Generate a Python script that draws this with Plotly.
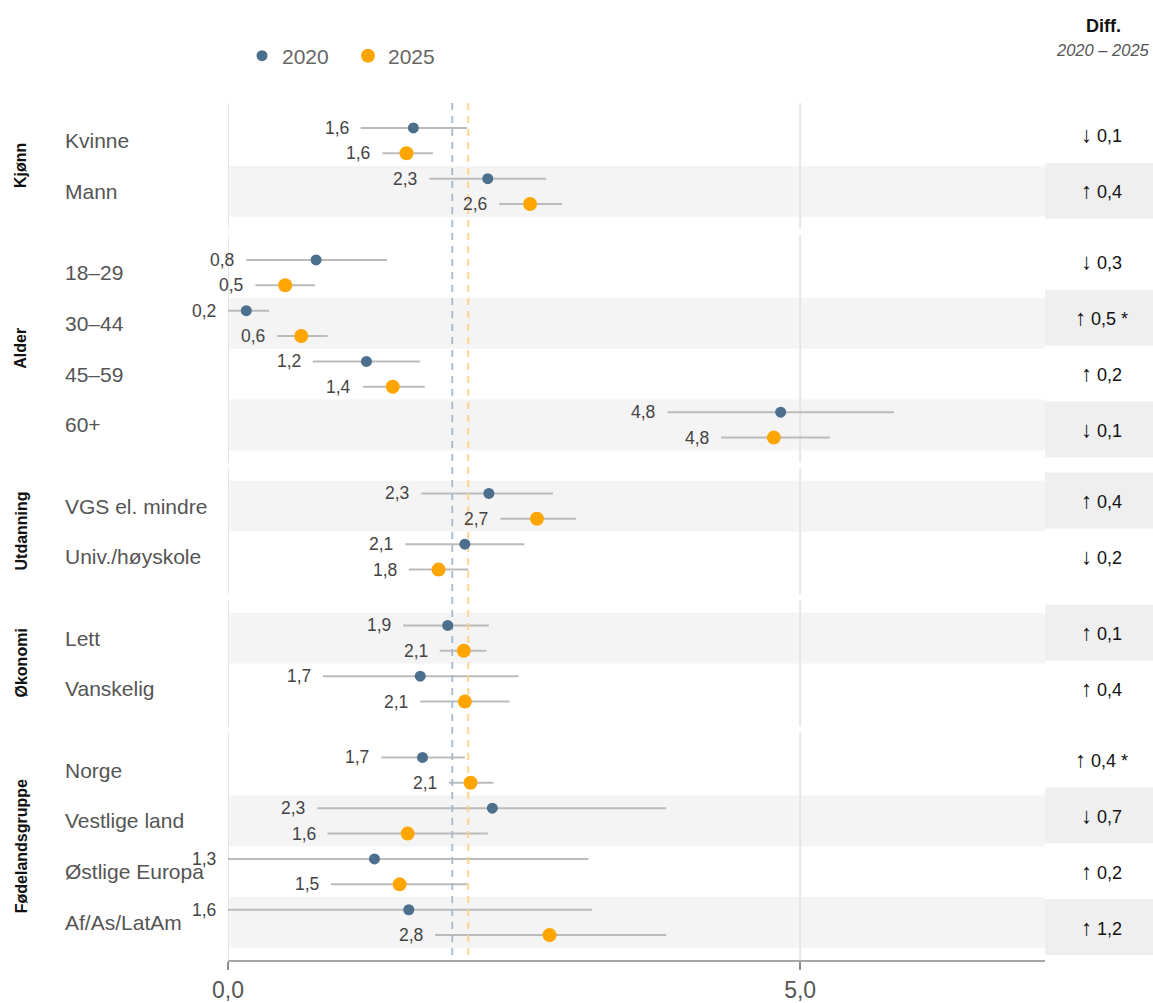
import plotly.graph_objects as go

# ---- data -----------------------------------------------------------------
GROUPS = ["Kjønn", "Alder", "Utdanning", "Økonomi", "Fødelandsgruppe"]
CATEGORIES = [
    "Kvinne", "Mann",
    "18–29", "30–44", "45–59", "60+",
    "VGS el. mindre", "Univ./høyskole",
    "Lett", "Vanskelig",
    "Norge", "Vestlige land", "Østlige Europa", "Af/As/LatAm",
]
CATEGORY_GROUP = [0, 0, 1, 1, 1, 1, 2, 2, 3, 3, 4, 4, 4, 4]

VAL_2020 = [1.62, 2.27, 0.77, 0.16, 1.21, 4.83, 2.28, 2.07, 1.92, 1.68, 1.70, 2.31, 1.28, 1.58]
LOW_2020 = [1.16, 1.76, 0.16, 0.00, 0.74, 3.84, 1.69, 1.55, 1.53, 0.83, 1.34, 0.78, 0.00, 0.00]
HIGH_2020 = [2.09, 2.78, 1.39, 0.36, 1.68, 5.82, 2.84, 2.59, 2.28, 2.54, 2.07, 3.83, 3.15, 3.18]

VAL_2025 = [1.56, 2.64, 0.50, 0.64, 1.44, 4.77, 2.70, 1.84, 2.06, 2.07, 2.12, 1.57, 1.50, 2.81]
LOW_2025 = [1.35, 2.37, 0.24, 0.43, 1.18, 4.31, 2.38, 1.58, 1.85, 1.68, 1.93, 0.87, 0.90, 1.81]
HIGH_2025 = [1.79, 2.92, 0.76, 0.87, 1.72, 5.26, 3.04, 2.10, 2.26, 2.46, 2.32, 2.27, 2.09, 3.83]

SIGNIFICANT = [False, False, False, True, False, False, False, False,
               False, False, True, False, False, False]
SHADED = [False, True, False, True, False, True, True, False,
          True, False, False, True, False, True]

MEAN_2020 = 1.96
MEAN_2025 = 2.10

X_TICKS = [0, 5]
X_MAX = 7.14

# ---- styling ----------------------------------------------------------------
FONT = "Arial, Liberation Sans, sans-serif"
C2020 = "#4b6f8d"
C2025 = "#ffa500"
CI_COLOR = "#bbbbbb"
BAND = "#f4f4f4"
DIFF_BAND = "#efefef"
GRID = "#e6e6e6"

W, H = 1153, 1003
ML, MR, MT, MB = 228, 108, 103, 43
PLOT_W = W - ML - MR

PAD = 0.24      # space above/below rows inside a group
GAP = 0.12      # space between groups
OFFSET = 0.25   # vertical offset of the two years within a row
DIFF_PITCH = 1.10

# ---- row layout (in row units, top = 0) -------------------------------------
row_y = []
group_span = []
pos = 0.0
for g in range(len(GROUPS)):
    top = pos
    pos += PAD
    for i, cg in enumerate(CATEGORY_GROUP):
        if cg == g:
            row_y.append(pos + 0.5)
            pos += 1.0
    pos += PAD
    group_span.append((top, pos))
    pos += GAP
Y_END = group_span[-1][1]


def fmt(v):
    return f"{v:.1f}".replace(".", ",")


def px_to_paper_x(px):
    return (px - ML) / PLOT_W


def px_to_paper_y(py):
    return 1 + (MT - py) / (H - MT - MB)


fig = go.Figure()
shapes = []
annotations = []

# shaded rows in the plot area
for y, shade in zip(row_y, SHADED):
    if shade:
        shapes.append(dict(type="rect", xref="x", yref="y", x0=0, x1=X_MAX,
                           y0=y - 0.5, y1=y + 0.5, fillcolor=BAND,
                           line=dict(width=0), layer="below"))

# vertical grid lines, broken between groups
for top, bottom in group_span:
    for t in X_TICKS:
        shapes.append(dict(type="line", xref="x", yref="y", x0=t, x1=t,
                           y0=top, y1=bottom, line=dict(color=GRID, width=2),
                           layer="below"))

# difference column
for g, (top, bottom) in enumerate(group_span):
    idx = [i for i, cg in enumerate(CATEGORY_GROUP) if cg == g]
    centre = (top + bottom) / 2 - 0.06
    n = len(idx)
    for k, i in enumerate(idx):
        yc = centre + (k - (n - 1) / 2) * DIFF_PITCH
        if SHADED[i]:
            shapes.append(dict(type="rect", xref="paper", yref="y",
                               x0=1, x1=1 + MR / PLOT_W,
                               y0=yc - DIFF_PITCH / 2, y1=yc + DIFF_PITCH / 2,
                               fillcolor=DIFF_BAND, line=dict(width=0),
                               layer="below"))
        d = VAL_2025[i] - VAL_2020[i]
        arrow = "↑" if d > 0 else "↓"
        txt = (f"<span style='font-size:22px'>{arrow}</span> {fmt(abs(d))}"
               + (" *" if SIGNIFICANT[i] else ""))
        annotations.append(dict(xref="paper", yref="y",
                                x=px_to_paper_x(1101), y=yc, text=txt,
                                showarrow=False, xanchor="center",
                                yanchor="middle",
                                font=dict(family=FONT, size=18, color="#111")))

# group titles (rotated)
for g, (top, bottom) in enumerate(group_span):
    annotations.append(dict(xref="paper", yref="y", x=px_to_paper_x(21),
                            y=(top + bottom) / 2, text=f"<b>{GROUPS[g]}</b>",
                            textangle=-90, showarrow=False,
                            xanchor="center", yanchor="middle",
                            font=dict(family=FONT, size=16, color="#111")))

# category labels
for name, y in zip(CATEGORIES, row_y):
    annotations.append(dict(xref="paper", yref="y", x=px_to_paper_x(63), y=y,
                            text=name, showarrow=False, xanchor="left",
                            yanchor="middle",
                            font=dict(family=FONT, size=21, color="#555")))

# confidence intervals
ci_x, ci_y = [], []
for lo, hi, y in zip(LOW_2020, HIGH_2020, row_y):
    ci_x += [lo, hi, None]
    ci_y += [y - OFFSET, y - OFFSET, None]
for lo, hi, y in zip(LOW_2025, HIGH_2025, row_y):
    ci_x += [lo, hi, None]
    ci_y += [y + OFFSET, y + OFFSET, None]
fig.add_trace(go.Scatter(x=ci_x, y=ci_y, mode="lines",
                         line=dict(color=CI_COLOR, width=2),
                         hoverinfo="skip", showlegend=False))

# overall averages as dashed references
for mean, col in ((MEAN_2020, "#a3bacd"), (MEAN_2025, "#ffd089")):
    fig.add_trace(go.Scatter(x=[mean, mean], y=[0, Y_END], mode="lines",
                             line=dict(color=col, width=1.8, dash="7px,6px"),
                             hoverinfo="skip", showlegend=False))

# point estimates
fig.add_trace(go.Scatter(x=VAL_2020, y=[y - OFFSET for y in row_y],
                         mode="markers", name="2020",
                         marker=dict(color=C2020, size=11),
                         cliponaxis=False))
fig.add_trace(go.Scatter(x=VAL_2025, y=[y + OFFSET for y in row_y],
                         mode="markers", name="2025",
                         marker=dict(color=C2025, size=14),
                         cliponaxis=False))

# value labels, left of each interval
for vals, lows, sign in ((VAL_2020, LOW_2020, -1), (VAL_2025, LOW_2025, 1)):
    for v, lo, y in zip(vals, lows, row_y):
        annotations.append(dict(xref="x", yref="y", x=lo, y=y + sign * OFFSET,
                                text=fmt(v), showarrow=False, xanchor="right",
                                yanchor="middle", xshift=-10,
                                font=dict(family=FONT, size=17.5, color="#444")))

# column header
annotations.append(dict(xref="paper", yref="paper", x=px_to_paper_x(1103),
                        y=px_to_paper_y(26), text="<b>Diff.</b>",
                        showarrow=False, xanchor="center", yanchor="middle",
                        font=dict(family=FONT, size=18, color="#111")))
annotations.append(dict(xref="paper", yref="paper", x=px_to_paper_x(1103),
                        y=px_to_paper_y(50), text="<i>2020 – 2025</i>",
                        showarrow=False, xanchor="center", yanchor="middle",
                        font=dict(family=FONT, size=16.5, color="#555")))

fig.update_layout(
    width=W, height=H,
    margin=dict(l=ML, r=MR, t=MT, b=MB, autoexpand=False),
    paper_bgcolor="white", plot_bgcolor="white",
    font=dict(family=FONT, color="#555"),
    shapes=shapes, annotations=annotations,
    showlegend=True,
    legend=dict(orientation="h", x=px_to_paper_x(242), y=px_to_paper_y(56),
                xanchor="left", yanchor="middle", entrywidth=61,
                font=dict(family=FONT, size=21, color="#666"),
                bgcolor="rgba(0,0,0,0)"),
    xaxis=dict(range=[0, X_MAX], tickvals=X_TICKS,
               ticktext=[fmt(t) for t in X_TICKS],
               showgrid=False, zeroline=False, showline=True,
               linecolor="#a6a6a6", linewidth=2, automargin=False,
               ticks="outside", ticklen=8, tickwidth=2, tickcolor="#8c8c8c",
               tickfont=dict(family=FONT, size=23, color="#555"),
               fixedrange=True),
    yaxis=dict(range=[Y_END, 0], visible=False, fixedrange=True,
               automargin=False),
)

fig.write_html("out.html")
